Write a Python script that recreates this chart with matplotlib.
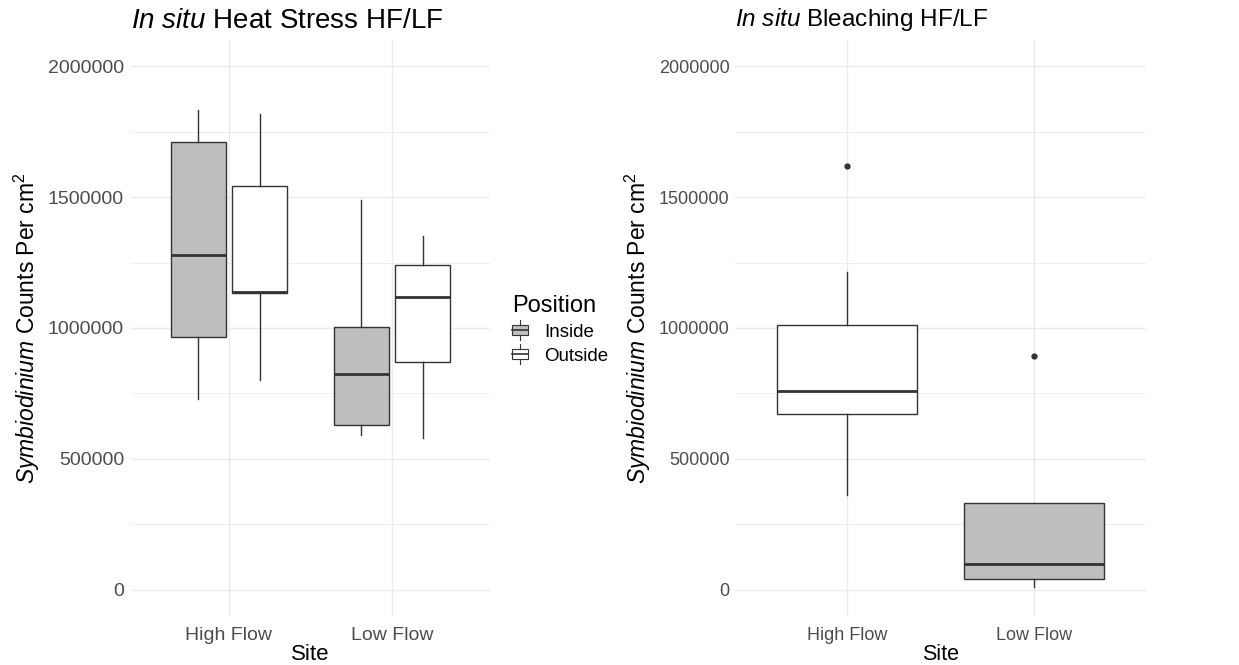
import matplotlib
matplotlib.use("Agg")
import matplotlib.pyplot as plt
import matplotlib.patches as mpatches
import matplotlib.lines as mlines
from matplotlib.legend_handler import HandlerBase
from matplotlib.ticker import FuncFormatter, MultipleLocator

plt.rcParams["font.family"] = ["Liberation Sans", "DejaVu Sans"]
plt.rcParams["mathtext.fontset"] = "custom"
plt.rcParams["mathtext.rm"] = "Liberation Sans"
plt.rcParams["mathtext.it"] = "Liberation Sans:italic"

# ── Data (box statistics) ────────────────────────────────────────────────────
sites = ["High Flow", "Low Flow"]
positions = ["Inside", "Outside"]

# Heat stress panel: [High Flow, Low Flow] per position
heat_inside_whislo = [728000, 591000]
heat_inside_q1     = [967000, 631000]
heat_inside_med    = [1277000, 824000]
heat_inside_q3     = [1710000, 1002000]
heat_inside_whishi = [1833000, 1487000]

heat_outside_whislo = [800000, 579000]
heat_outside_q1     = [1133000, 872000]
heat_outside_med    = [1138000, 1119000]
heat_outside_q3     = [1544000, 1239000]
heat_outside_whishi = [1817000, 1352000]

# Bleaching panel: [High Flow, Low Flow]
bleach_whislo = [361000, 10000]
bleach_q1     = [671000, 41000]
bleach_med    = [759000, 100000]
bleach_q3     = [1010000, 330000]
bleach_whishi = [1213000, 330000]
bleach_fliers = [[1618000], [893000]]
bleach_fill   = ["white", "#BEBEBE"]

fill_colors = {"Inside": "#BEBEBE", "Outside": "white"}
edge = "#333333"
grid_col = "#EBEBEB"


def make_stats(lo, q1, med, q3, hi, fliers=None):
    out = []
    for i in range(len(lo)):
        out.append(dict(whislo=lo[i], q1=q1[i], med=med[i], q3=q3[i],
                        whishi=hi[i], fliers=(fliers[i] if fliers else [])))
    return out


def style_axes(ax, tick_size, xtitle_size, ypad):
    for s in ax.spines.values():
        s.set_visible(False)
    ax.set_ylim(-100000, 2100000)
    ax.set_xlim(0.4, 2.6)
    ax.yaxis.set_major_locator(MultipleLocator(500000))
    ax.yaxis.set_minor_locator(MultipleLocator(250000))
    ax.yaxis.set_major_formatter(FuncFormatter(lambda v, p: f"{v:.0f}"))
    ax.set_xticks([1, 2])
    ax.set_xticklabels(sites)
    ax.grid(which="major", color=grid_col, linewidth=1.0)
    ax.grid(which="minor", axis="y", color=grid_col, linewidth=0.6)
    ax.set_axisbelow(True)
    ax.tick_params(which="both", length=0, labelsize=tick_size, colors="#4D4D4D")
    ax.tick_params(axis="y", pad=ypad)
    ax.tick_params(axis="x", pad=8)
    ax.set_xlabel("Site", fontsize=xtitle_size, labelpad=0)
    ax.set_ylabel(r"$\mathit{Symbiodinium}$ Counts Per cm$^2$", fontsize=16.5,
                  labelpad=4)


def draw_boxes(ax, stats, pos, width, fills):
    bp = ax.bxp(stats, positions=pos, widths=width, patch_artist=True,
                showcaps=False, manage_ticks=False,
                boxprops=dict(edgecolor=edge, linewidth=1.0),
                whiskerprops=dict(color=edge, linewidth=1.0),
                medianprops=dict(color=edge, linewidth=2.0),
                flierprops=dict(marker="o", markersize=3.5, markerfacecolor=edge,
                                markeredgecolor=edge))
    for patch, fc in zip(bp["boxes"], fills):
        patch.set_facecolor(fc)


class BoxHandler(HandlerBase):
    # small boxplot key, like ggplot's draw_key_boxplot
    def create_artists(self, legend, orig_handle, xdescent, ydescent,
                       width, height, fontsize, trans):
        x0, y0 = -xdescent, -ydescent
        cx = x0 + width / 2
        lo, b0, b1, hi = 0.05, 0.30, 0.75, 1.0
        rect = mpatches.Rectangle((x0, y0 + b0 * height), width, (b1 - b0) * height,
                                  facecolor=orig_handle.get_facecolor(),
                                  edgecolor=edge, linewidth=0.8, transform=trans)
        med = mlines.Line2D([x0, x0 + width], [y0 + 0.525 * height] * 2,
                            color=edge, linewidth=1.2, transform=trans)
        w1 = mlines.Line2D([cx, cx], [y0 + lo * height, y0 + b0 * height],
                           color=edge, linewidth=0.8, transform=trans)
        w2 = mlines.Line2D([cx, cx], [y0 + b1 * height, y0 + hi * height],
                           color=edge, linewidth=0.8, transform=trans)
        return [rect, med, w1, w2]


fig = plt.figure(figsize=(12.39, 6.65), dpi=100)
fig.patch.set_facecolor("white")

# ── Left panel: heat stress ─────────────────────────────────────────────────
ax1 = fig.add_axes([131 / 1239, 1 - 616 / 665, 359 / 1239, 576 / 665])
style_axes(ax1, 14, 16, 5)
draw_boxes(ax1, make_stats(heat_inside_whislo, heat_inside_q1, heat_inside_med,
                           heat_inside_q3, heat_inside_whishi),
           [0.8125, 1.8125], 0.34, [fill_colors["Inside"]] * 2)
draw_boxes(ax1, make_stats(heat_outside_whislo, heat_outside_q1, heat_outside_med,
                           heat_outside_q3, heat_outside_whishi),
           [1.1875, 2.1875], 0.34, [fill_colors["Outside"]] * 2)
ax1.set_title(r"$\mathit{In\ situ}$ Heat Stress HF/LF", loc="left",
              fontsize=20, pad=9)

# ── Right panel: bleaching ──────────────────────────────────────────────────
ax2 = fig.add_axes([735 / 1239, 1 - 616 / 665, 411 / 1239, 576 / 665])
style_axes(ax2, 13, 15.5, 4)
draw_boxes(ax2, make_stats(bleach_whislo, bleach_q1, bleach_med, bleach_q3,
                           bleach_whishi, bleach_fliers),
           [1, 2], 0.75, bleach_fill)
ax2.set_title(r"$\mathit{In\ situ}$ Bleaching HF/LF", loc="left",
              fontsize=17.5, pad=10)

# ── Legend ──────────────────────────────────────────────────────────────────
handles = [mpatches.Patch(facecolor=fill_colors[p], edgecolor=edge) for p in positions]
leg = fig.legend(handles, positions, loc="upper left",
                 bbox_to_anchor=(503 / 1239, 1 - 286 / 665),
                 title="Position", title_fontsize=17, fontsize=13.5,
                 frameon=False, borderpad=0, handlelength=0.85, handleheight=1.4,
                 handletextpad=0.85, labelspacing=0.12, alignment="left",
                 handler_map={mpatches.Patch: BoxHandler()})

fig.savefig("out.png", dpi=100, facecolor="white")
